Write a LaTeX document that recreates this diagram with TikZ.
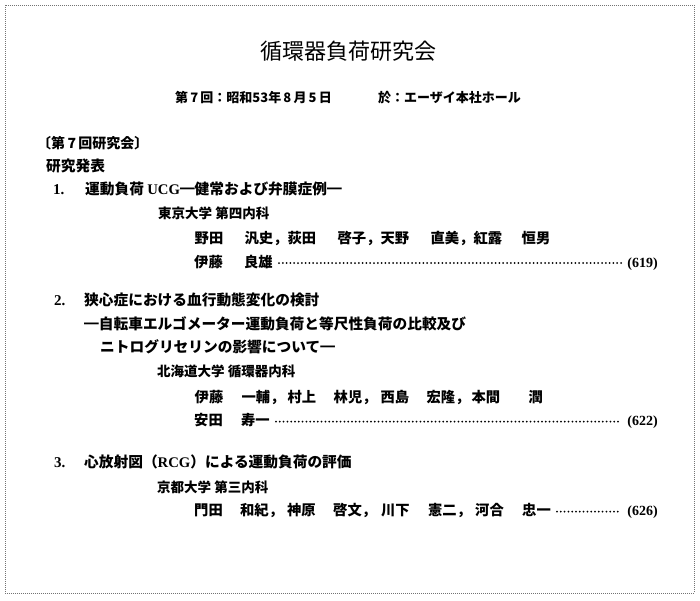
\documentclass[tikz,border=0pt]{standalone}
\usepackage{fontspec}
\setmainfont{Noto Sans CJK JP}
\newfontfamily\serif{Liberation Serif}
\newcommand\pc[2]{\rlap{\hspace{#1}#2}}
\begin{document}
\begin{tikzpicture}[x=1pt,y=-1pt,
  frame/.style={draw=black!55,line width=0.7pt,dash pattern=on 0.7pt off 1.3pt},
  txt/.style={anchor=base west,inner sep=0pt,font=\fontsize{14.7}{16}\selectfont\bfseries},
  bold/.style={anchor=base west,inner sep=0pt,font=\fontsize{14.3}{16}\selectfont\bfseries},
  aff/.style={anchor=base west,inner sep=0pt,font=\fontsize{13.5}{15}\selectfont\bfseries},
  num/.style={anchor=base west,inner sep=0pt,font=\fontsize{15}{16}\selectfont\serif\bfseries},
  pg/.style={anchor=base east,inner sep=0pt,font=\fontsize{14}{16}\selectfont\serif\bfseries},
  leader/.style={line width=2pt,line cap=round,dash pattern=on 0pt off 3.8pt,black}]
\useasboundingbox (0,0) rectangle (700,600);
\fill[white] (0,0) rectangle (700,600);
\draw[frame] (5,5) rectangle (694,593);
% heading
\node[anchor=base,inner sep=0pt,font=\fontsize{22}{24}\selectfont] (title) at (348,59.5) {循環器負荷研究会};
\node[anchor=base west,inner sep=0pt,font=\fontsize{13}{14}\selectfont\bfseries] (date) at (175,102.8) {第\,7\,回：昭和53年\,8\,月\,5\,日};
\node[anchor=base west,inner sep=0pt,font=\fontsize{13}{14}\selectfont\bfseries] (place) at (378,102.8) {於：エーザイ本社ホール};
\node[anchor=base west,inner sep=0pt,font=\fontsize{14}{15}\selectfont\bfseries] (sess) at (37,148) {〔第\,7\,回研究会〕};
\node[txt] (kenkyu) at (46,171.6) {研究発表};
% item 1
\node[num] (n1) at (53,194.6) {1.};
\node[txt] (t1) at (85,194.6) {運動負荷 {\serif UCG}━健常および弁膜症例━};
\node[aff] (a1) at (158,218.6) {東京大学 第四内科};
\node[bold] (m1) at (194,243.6) {\pc{0pt}{野田}\pc{50pt}{汎史，}\pc{93pt}{荻田}\pc{143pt}{啓子，}\pc{186pt}{天野}\pc{236pt}{直美，}\pc{279pt}{紅露}\pc{327pt}{恒男}};
\node[bold] (m1b) at (194,267) {\makebox[50pt][l]{伊藤}良雄};
\node[pg] (p1) at (658,267) {(619)};
\draw[leader] ([xshift=6pt,yshift=4pt]m1b.base east) -- ([xshift=-6pt,yshift=4pt]p1.base west);
% item 2
\node[num] (n2) at (54,305.6) {2.};
\node[txt] (t2) at (84,305.6) {狭心症における血行動態変化の検討};
\node[txt] (t2b) at (84,329.6) {━自転車エルゴメーター運動負荷と等尺性負荷の比較及び};
\node[txt] (t2c) at (100,352.6) {ニトログリセリンの影響について━};
\node[aff] (a2) at (157,376.1) {北海道大学 循環器内科};
\node[bold] (m2) at (194,402.6) {\pc{0pt}{伊藤}\pc{47pt}{一輔，}\pc{93pt}{村上}\pc{139pt}{林児，}\pc{186pt}{西島}\pc{232pt}{宏隆，}\pc{277pt}{本間}\pc{334pt}{潤}};
\node[bold] (m2b) at (194,425.6) {\makebox[47pt][l]{安田}寿一};
\node[pg] (p2) at (658,425.6) {(622)};
\draw[leader] ([xshift=6pt,yshift=4pt]m2b.base east) -- ([xshift=-6pt,yshift=4pt]p2.base west);
% item 3
\node[num] (n3) at (54,467.6) {3.};
\node[txt] (t3) at (84,467.6) {心放射図（{\serif RCG}）による運動負荷の評価};
\node[aff] (a3) at (157,492.1) {京都大学 第三内科};
\node[bold] (m3) at (194,515.6) {\makebox[328pt][l]{\pc{0pt}{門田}\pc{46pt}{和紀，}\pc{93pt}{神原}\pc{139pt}{啓文，}\pc{187pt}{川下}\pc{234pt}{憲二，}\pc{281pt}{河合}}忠一};
\node[pg] (p3) at (658,515.6) {(626)};
\draw[leader] ([xshift=6pt,yshift=4pt]m3.base east) -- ([xshift=-6pt,yshift=4pt]p3.base west);
\end{tikzpicture}
\end{document}
